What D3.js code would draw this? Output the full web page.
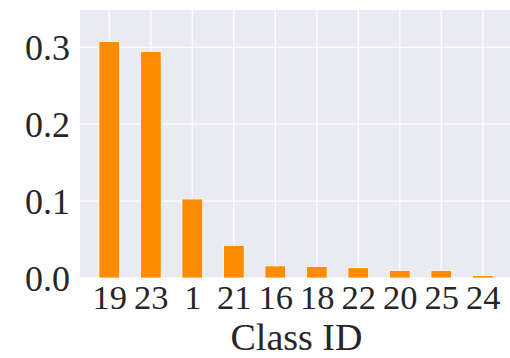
<!DOCTYPE html>
<html><head><meta charset="utf-8">
<script src="https://cdn.jsdelivr.net/npm/d3@7"></script>
<style>body{margin:0;background:#fff}svg{display:block}text{font-family:"Liberation Serif","Times New Roman",serif;fill:#262626}</style>
</head><body><svg id="c" width="510" height="358"></svg>
<script>
const categories = ["19","23","1","21","16","18","22","20","25","24"];
const values = [0.3075, 0.2945, 0.1028, 0.0425, 0.0158, 0.0148, 0.0134, 0.0096, 0.0096, 0.0031];
const yTicks = [0.0, 0.1, 0.2, 0.3];

const svg = d3.select("#c");
const L = 80, T = 10, B = 278;
const step = 41.5;
const x = d3.scaleLinear().domain([-0.706, categories.length - 1 + 0.706]).range([L, L + step * (categories.length - 1 + 1.412)]);
const y = d3.scaleLinear().domain([0, 0.3485]).range([B, T]);
const R = x.range()[1];

svg.append("rect").attr("x", L).attr("y", T).attr("width", R - L).attr("height", B - T).attr("fill", "#eaeaf2");

const g = svg.append("g");
g.selectAll(".gy").data(yTicks).join("line")
  .attr("x1", L).attr("x2", R).attr("y1", d => y(d)).attr("y2", d => y(d))
  .attr("stroke", "#fff").attr("stroke-width", 1.2);
g.selectAll(".gx").data(categories).join("line")
  .attr("y1", T).attr("y2", B).attr("x1", (d, i) => x(i)).attr("x2", (d, i) => x(i))
  .attr("stroke", "#fff").attr("stroke-width", 1.2);

const bw = step * 0.5;
svg.selectAll(".bar").data(values).join("rect")
  .attr("x", (d, i) => x(i) - bw / 2).attr("width", bw)
  .attr("y", d => y(d)).attr("height", d => B - y(d))
  .attr("fill", "#ff8c00").attr("stroke", "#fff").attr("stroke-width", 0.8);

// y axis
const ya = svg.append("g").attr("transform", `translate(${L},0)`)
  .call(d3.axisLeft(y).tickValues(yTicks).tickFormat(d3.format(".1f")).tickSize(0).tickPadding(10));
ya.select(".domain").remove();
ya.selectAll("text").attr("font-size", 36).attr("font-family", "Liberation Serif").attr("fill", "#262626").attr("dy", "0.35em");

// x axis
const xa = svg.append("g").attr("transform", `translate(0,${B})`)
  .call(d3.axisBottom(x).tickValues(d3.range(categories.length)).tickFormat(i => categories[i]).tickSize(0).tickPadding(6));
xa.select(".domain").remove();
xa.selectAll("text").attr("font-size", 34.5).attr("font-family", "Liberation Serif").attr("fill", "#262626");

svg.append("text").attr("x", 296.5).attr("y", 349.5).attr("text-anchor", "middle")
  .attr("font-size", 38).text("Class ID");
</script></body></html>
